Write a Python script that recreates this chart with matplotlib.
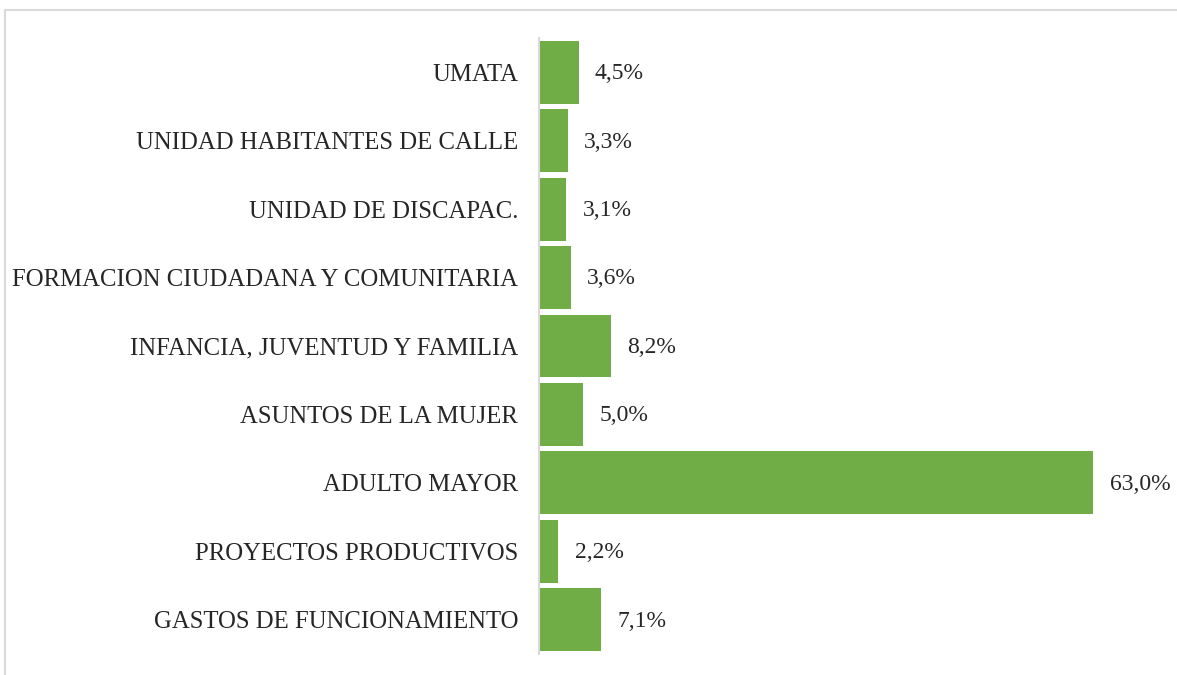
import matplotlib
matplotlib.use("Agg")
import matplotlib.pyplot as plt
from matplotlib.patches import Rectangle

categories = [
    "GASTOS DE FUNCIONAMIENTO",
    "PROYECTOS PRODUCTIVOS",
    "ADULTO MAYOR",
    "ASUNTOS DE LA MUJER",
    "INFANCIA, JUVENTUD Y FAMILIA",
    "FORMACION CIUDADANA Y COMUNITARIA",
    "UNIDAD DE DISCAPAC.",
    "UNIDAD HABITANTES DE CALLE",
    "UMATA",
]
values = [7.1, 2.2, 63.0, 5.0, 8.2, 3.6, 3.1, 3.3, 4.5]

plt.rcParams['font.family'] = ['Liberation Serif', 'DejaVu Serif']

fig = plt.figure(figsize=(11.77, 6.75), dpi=100)
ax = fig.add_axes([539/1177, 1 - 654/675, 616/1177, 616/675])

ax.barh(range(len(categories)), values, height=0.92, color="#70AD47")
ax.set_yticks(range(len(categories)))
ax.set_yticklabels(categories, fontsize=17.8, color="#262626")
ax.tick_params(axis="y", length=0, pad=15)
ax.set_xlim(0, 70)
ax.set_ylim(-0.5, len(categories) - 0.5)
ax.set_xticks([])

for s in ["top", "right", "bottom"]:
    ax.spines[s].set_visible(False)
ax.spines["left"].set_color("#d9d9d9")
ax.spines["left"].set_linewidth(1.5)

for i, v in enumerate(values):
    ax.text(v + 1.85, i - 0.02, ("%.1f%%" % v).replace(".", ","), va="center", ha="left",
            fontsize=17, color="#262626")

# outer chart border (only top and left visible in the crop)
fig.patches.append(Rectangle((5/1177, -0.1), 1.2, 1 - 10/675 + 0.1, transform=fig.transFigure,
                             fill=False, edgecolor="#d9d9d9", linewidth=1.5))

fig.savefig("out.png", dpi=100)
